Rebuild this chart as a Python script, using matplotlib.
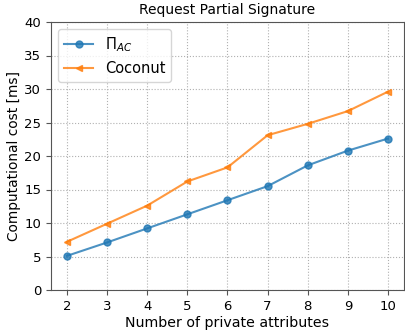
import matplotlib
matplotlib.use("Agg")
import matplotlib.pyplot as plt

## number of private attributes and the measured costs (ms)
attrs = [2, 3, 4, 5, 6, 7, 8, 9, 10]
pi_ac = [5.1, 7.1, 9.2, 11.3, 13.4, 15.5, 18.6, 20.8, 22.6]
coconut = [7.2, 9.9, 12.6, 16.2, 18.3, 23.1, 24.8, 26.7, 29.6]

fig = plt.figure(figsize=(4.06, 3.33), dpi=100)
ax = fig.add_axes([51/406, 1 - 290/333, 353/406, 268/333])

ax.plot(attrs, pi_ac, marker="o", markersize=5, label=r"$\Pi_{AC}$", alpha=0.8)
ax.plot(attrs, coconut, marker="<", markersize=5, label="Coconut", alpha=0.8)

ax.set_ylim(0, 40)
ax.set_xticks(attrs)
ax.grid(True, linestyle=":", color="#b0b0b0")
for s in ax.spines.values():
    s.set_color("#555555")
ax.tick_params(labelsize=9.5, color="#555555")
ax.set_xlabel("Number of private attributes", fontsize=10.2, labelpad=2)
ax.set_ylabel("Computational cost [ms]", fontsize=9.9, labelpad=2)
ax.set_title("Request Partial Signature", fontsize=10)
ax.legend(loc="upper left", fontsize=10.5)

fig.savefig("out.png", dpi=100)
